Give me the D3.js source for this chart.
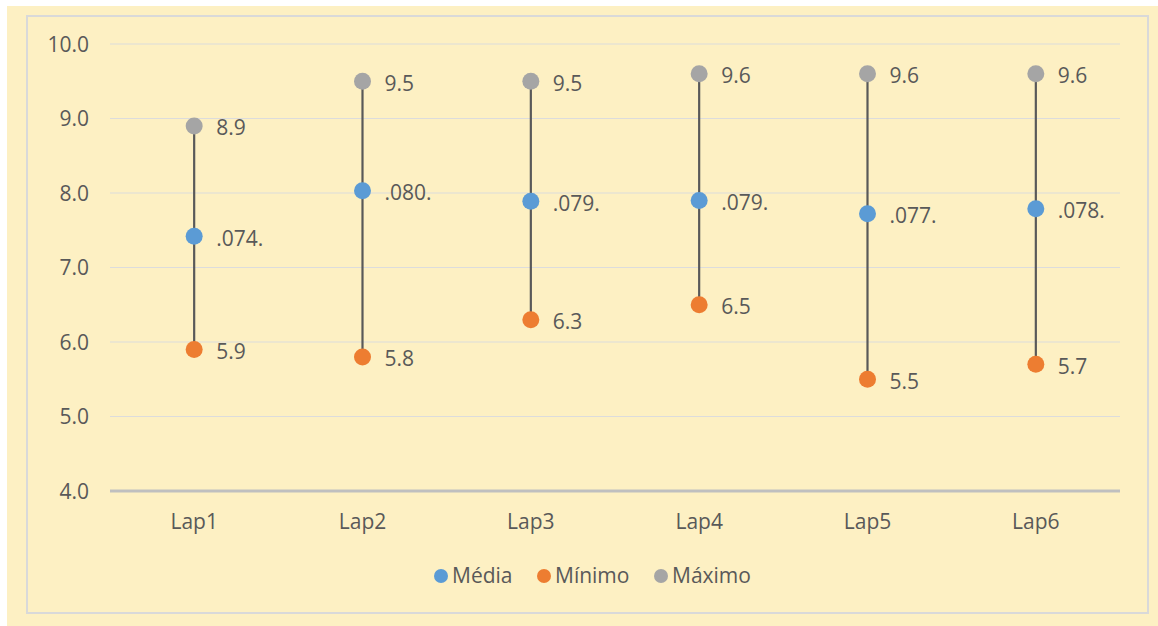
<!DOCTYPE html>
<html>
<head>
<meta charset="utf-8">
<script src="https://cdn.jsdelivr.net/npm/d3@7"></script>
<style>
  html, body { margin: 0; padding: 0; background: #ffffff; }
  svg { display: block; }
  text { font-family: "Open Sans", "Noto Sans", sans-serif; fill: #595959; }
</style>
</head>
<body>
<svg id="chart" width="1158" height="626"></svg>
<script>
// Lap results: mean, minimum and maximum per lap
const categories = ["Lap1", "Lap2", "Lap3", "Lap4", "Lap5", "Lap6"];
const mediaValues = [7.42, 8.03, 7.89, 7.90, 7.72, 7.79];
const mediaLabels = [".074.", ".080.", ".079.", ".079.", ".077.", ".078."];
const minimoValues = [5.9, 5.8, 6.3, 6.5, 5.5, 5.7];
const maximoValues = [8.9, 9.5, 9.5, 9.6, 9.6, 9.6];
const yTicks = [4, 5, 6, 7, 8, 9, 10];
const seriesNames = ["Média", "Mínimo", "Máximo"];
const seriesColors = ["#5b9bd5", "#ed7d31", "#a5a5a5"];

const svg = d3.select("#chart");

// Background panel and chart border
svg.append("rect").attr("x", 7).attr("y", 6).attr("width", 1151).attr("height", 620)
  .attr("fill", "#fdf0c3");
svg.append("rect").attr("x", 27).attr("y", 16).attr("width", 1121).attr("height", 597)
  .attr("fill", "none").attr("stroke", "#d9d9d9").attr("stroke-width", 2);

const x = d3.scaleBand().domain(categories).range([110, 1120]);
const y = d3.scaleLinear().domain([4, 10]).range([491, 44]);

// Horizontal gridlines
svg.append("g").selectAll("line").data(yTicks.filter(t => t > 4)).join("line")
  .attr("x1", 110).attr("x2", 1120)
  .attr("y1", d => y(d)).attr("y2", d => y(d))
  .attr("stroke", "#dcdcdc").attr("stroke-width", 1.2);

// Y axis labels
const yAxis = d3.axisLeft(y).tickValues(yTicks).tickFormat(d3.format(".1f")).tickSize(0).tickPadding(0);
const yg = svg.append("g").attr("transform", "translate(89,0)").call(yAxis);
yg.select(".domain").remove();
yg.selectAll("text").attr("font-size", 21).attr("fill", "#595959")
  .style("font-family", '"Open Sans", sans-serif').attr("dy", "0.35em");

// Category axis baseline
svg.append("line").attr("x1", 110).attr("x2", 1120).attr("y1", y(4)).attr("y2", y(4))
  .attr("stroke", "#bfbfbf").attr("stroke-width", 3);

const xAxis = d3.axisBottom(x).tickSize(0).tickPadding(0);
const xg = svg.append("g").attr("transform", `translate(0,${y(4) + 31})`).call(xAxis);
xg.select(".domain").remove();
xg.selectAll("text").attr("font-size", 21).attr("fill", "#595959")
  .style("font-family", '"Open Sans", sans-serif').attr("dy", "0.35em");

const cx = d => x(d) + x.bandwidth() / 2;

// High-low lines
svg.append("g").selectAll("line").data(categories).join("line")
  .attr("x1", cx).attr("x2", cx)
  .attr("y1", (d, i) => y(maximoValues[i])).attr("y2", (d, i) => y(minimoValues[i]))
  .attr("stroke", "#595959").attr("stroke-width", 2.2);

// Markers and data labels for each series
const series = [
  { values: mediaValues, labels: mediaLabels },
  { values: minimoValues, labels: minimoValues.map(d3.format(".1f")) },
  { values: maximoValues, labels: maximoValues.map(d3.format(".1f")) }
];
series.forEach((s, si) => {
  const g = svg.append("g");
  g.selectAll("circle").data(categories).join("circle")
    .attr("cx", cx).attr("cy", (d, i) => y(s.values[i]))
    .attr("r", 8.5).attr("fill", seriesColors[si]);
  g.selectAll("text").data(categories).join("text")
    .attr("x", d => cx(d) + 22).attr("y", (d, i) => y(s.values[i]) + 2)
    .attr("dy", "0.35em").attr("font-size", 21)
    .text((d, i) => s.labels[i]);
});

// Legend
const legendX = [441, 544, 661];
const lg = svg.append("g");
seriesNames.forEach((name, i) => {
  lg.append("circle").attr("cx", legendX[i]).attr("cy", 576).attr("r", 7)
    .attr("fill", seriesColors[i]);
  lg.append("text").attr("x", legendX[i] + 11).attr("y", 576).attr("dy", "0.35em")
    .attr("font-size", 21).text(name);
});
</script>
</body>
</html>
